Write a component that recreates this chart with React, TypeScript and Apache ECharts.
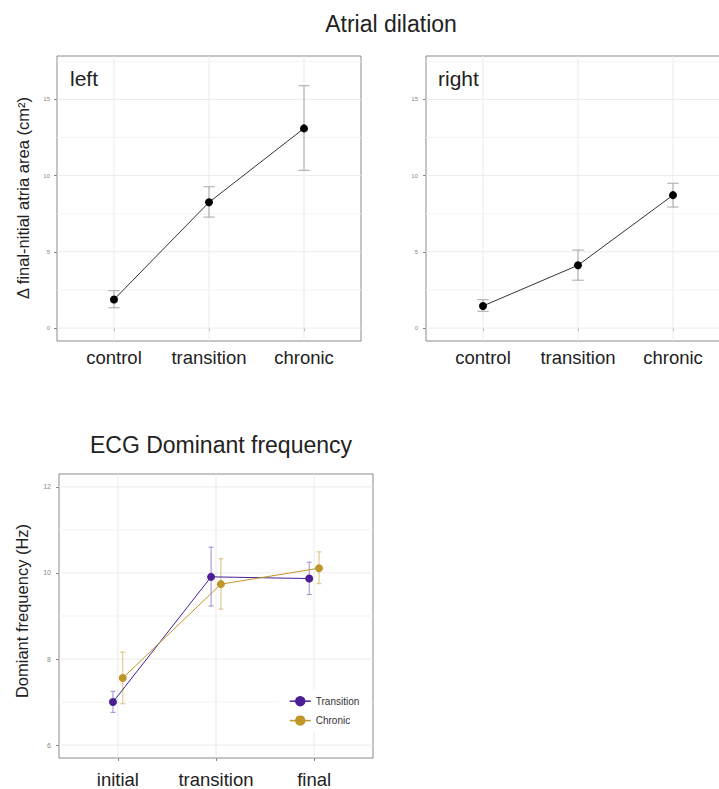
import React, { useEffect, useRef } from "react";
import * as echarts from "echarts";

// ---------- data ----------
const atrialCategories = ["control", "transition", "chronic"];
const leftMean = [1.87, 8.25, 13.1];
const leftLow = [1.33, 7.28, 10.35];
const leftHigh = [2.45, 9.27, 15.9];
const rightMean = [1.45, 4.12, 8.72];
const rightLow = [1.1, 3.14, 7.94];
const rightHigh = [1.86, 5.12, 9.5];
const atrialTicks = [0, 5, 10, 15];
const atrialMinorTicks = [2.5, 7.5, 12.5, 17.5];

const ecgCategories = ["initial", "transition", "final"];
const transitionMean = [7.0, 9.91, 9.87];
const transitionLow = [6.76, 9.23, 9.5];
const transitionHigh = [7.25, 10.6, 10.25];
const chronicMean = [7.56, 9.74, 10.11];
const chronicLow = [6.96, 9.16, 9.75];
const chronicHigh = [8.16, 10.33, 10.49];
const ecgTicks = [6, 8, 10, 12];
const ecgMinorTicks = [7, 9, 11];

const FONT = "'Liberation Sans', Arial, Helvetica, sans-serif";
const PURPLE = "#4a1f96";
const GOLD = "#bf9629";
const PURPLE_LIGHT = "#a08bd2";
const GOLD_LIGHT = "#d9c27c";

function gridSeries(idx: number, major: number[], minor: number[], cats: number[]) {
  const data: number[][] = [];
  major.forEach((v) => data.push([0, v, 1]));
  minor.forEach((v) => data.push([0, v, 0]));
  cats.forEach((v) => data.push([1, v, 1]));
  return {
    type: "custom",
    xAxisIndex: idx,
    yAxisIndex: idx,
    silent: true,
    z: 1,
    data,
    renderItem: (params: any, api: any) => {
      const kind = api.value(0);
      const v = api.value(1);
      const isMajor = api.value(2) === 1;
      const cs = params.coordSys;
      const style = { stroke: isMajor ? "#ebebeb" : "#f3f3f3", lineWidth: 1 };
      if (kind === 0) {
        const y = api.coord([1, v])[1];
        return { type: "line", shape: { x1: cs.x, y1: y, x2: cs.x + cs.width, y2: y }, style };
      }
      const x = api.coord([v, 0])[0];
      return { type: "line", shape: { x1: x, y1: cs.y, x2: x, y2: cs.y + cs.height }, style };
    },
  };
}

function errorSeries(idx: number, xs: number[], lo: number[], hi: number[], hw: number, color: string) {
  return {
    type: "custom",
    xAxisIndex: idx,
    yAxisIndex: idx,
    silent: true,
    z: 2,
    data: xs.map((x, i) => [x, lo[i], hi[i]]),
    renderItem: (_params: any, api: any) => {
      const x = api.value(0);
      const l = api.value(1);
      const h = api.value(2);
      const pl = api.coord([x, l]);
      const ph = api.coord([x, h]);
      const xl = api.coord([x - hw, h])[0];
      const xr = api.coord([x + hw, h])[0];
      const style = { stroke: color, lineWidth: 1 };
      return {
        type: "group",
        children: [
          { type: "line", shape: { x1: pl[0], y1: pl[1], x2: ph[0], y2: ph[1] }, style },
          { type: "line", shape: { x1: xl, y1: ph[1], x2: xr, y2: ph[1] }, style },
          { type: "line", shape: { x1: xl, y1: pl[1], x2: xr, y2: pl[1] }, style },
        ],
      };
    },
  };
}

function xAxisFor(idx: number, cats: string[], labelMargin: number, fontSize: number) {
  return {
    type: "value",
    gridIndex: idx,
    min: 0.4,
    max: 3.6,
    axisLine: { show: false },
    splitLine: { show: false },
    axisTick: { show: true, customValues: [1, 2, 3], length: 3, lineStyle: { color: "#888" } },
    axisLabel: {
      customValues: [1, 2, 3],
      formatter: (v: number) => cats[Math.round(v) - 1] ?? "",
      fontSize,
      fontFamily: FONT,
      color: "#222",
      margin: labelMargin,
    },
  };
}

function yAxisFor(idx: number, min: number, max: number, ticks: number[], fontSize: number, margin: number) {
  return {
    type: "value",
    gridIndex: idx,
    min,
    max,
    axisLine: { show: false },
    splitLine: { show: false },
    axisTick: { show: true, customValues: ticks, length: 3, lineStyle: { color: "#888" } },
    axisLabel: { customValues: ticks, fontSize, fontFamily: FONT, color: "#888", margin },
  };
}

export default function App() {
  const ref = useRef<HTMLDivElement>(null);
  useEffect(() => {
    if (!ref.current) return;
    const chart = echarts.init(ref.current, undefined, { renderer: "svg" });
    const catX = [1, 2, 3];
    const dodge = 0.05;
    const tX = catX.map((x) => x - dodge);
    const cX = catX.map((x) => x + dodge);
    const gridStyle = { show: true, backgroundColor: "#fff", borderColor: "#8a8a8a", borderWidth: 1 };

    const option: any = {
      animation: false,
      backgroundColor: "#fff",
      grid: [
        { left: 57, top: 56, width: 304, height: 285, ...gridStyle },
        { left: 426, top: 56, width: 304, height: 285, ...gridStyle },
        { left: 59, top: 474, width: 314, height: 285, ...gridStyle },
      ],
      xAxis: [
        xAxisFor(0, atrialCategories, 7, 18.5),
        xAxisFor(1, atrialCategories, 7, 18.5),
        xAxisFor(2, ecgCategories, 12, 18.5),
      ],
      yAxis: [
        yAxisFor(0, -0.85, 17.85, atrialTicks, 6, 7),
        yAxisFor(1, -0.85, 17.85, atrialTicks, 6, 8),
        yAxisFor(2, 5.7, 12.3, ecgTicks, 7, 8),
      ],
      legend: {
        data: ["Transition", "Chronic"],
        orient: "vertical",
        left: 279,
        top: 690,
        padding: [6, 10, 6, 10],
        itemWidth: 21,
        itemHeight: 13,
        itemGap: 9,
        backgroundColor: "#fff",
        lineStyle: { width: 1.5 },
        textStyle: { fontSize: 10, fontFamily: FONT, color: "#333" },
      },
      series: [
        gridSeries(0, atrialTicks, atrialMinorTicks, catX),
        gridSeries(1, atrialTicks, atrialMinorTicks, catX),
        gridSeries(2, ecgTicks, ecgMinorTicks, catX),
        errorSeries(0, catX, leftLow, leftHigh, 0.06, "#a6a6a6"),
        errorSeries(1, catX, rightLow, rightHigh, 0.06, "#a6a6a6"),
        {
          type: "line",
          name: "left",
          xAxisIndex: 0,
          yAxisIndex: 0,
          z: 3,
          data: catX.map((x, i) => [x, leftMean[i]]),
          symbol: "circle",
          symbolSize: 8,
          itemStyle: { color: "#000" },
          lineStyle: { color: "#333", width: 1 },
        },
        {
          type: "line",
          name: "right",
          xAxisIndex: 1,
          yAxisIndex: 1,
          z: 3,
          data: catX.map((x, i) => [x, rightMean[i]]),
          symbol: "circle",
          symbolSize: 8,
          itemStyle: { color: "#000" },
          lineStyle: { color: "#333", width: 1 },
        },
        errorSeries(2, tX, transitionLow, transitionHigh, 0.025, PURPLE_LIGHT),
        errorSeries(2, cX, chronicLow, chronicHigh, 0.025, GOLD_LIGHT),
        {
          type: "line",
          name: "Transition",
          xAxisIndex: 2,
          yAxisIndex: 2,
          z: 3,
          data: tX.map((x, i) => [x, transitionMean[i]]),
          symbol: "circle",
          symbolSize: 8,
          itemStyle: { color: PURPLE },
          lineStyle: { color: PURPLE, width: 1 },
        },
        {
          type: "line",
          name: "Chronic",
          xAxisIndex: 2,
          yAxisIndex: 2,
          z: 3,
          data: cX.map((x, i) => [x, chronicMean[i]]),
          symbol: "circle",
          symbolSize: 8,
          itemStyle: { color: GOLD },
          lineStyle: { color: GOLD, width: 1 },
        },
      ],
      graphic: [
        {
          type: "text",
          x: 391,
          y: 24,
          style: { text: "Atrial dilation", font: `23px ${FONT}`, fill: "#222", align: "center", verticalAlign: "middle" },
        },
        {
          type: "text",
          x: 221,
          y: 445,
          style: { text: "ECG Dominant frequency", font: `23px ${FONT}`, fill: "#222", align: "center", verticalAlign: "middle" },
        },
        {
          type: "text",
          x: 70,
          y: 78,
          style: { text: "left", font: `21px ${FONT}`, fill: "#222", align: "left", verticalAlign: "middle" },
        },
        {
          type: "text",
          x: 438,
          y: 78,
          style: { text: "right", font: `21px ${FONT}`, fill: "#222", align: "left", verticalAlign: "middle" },
        },
        {
          type: "text",
          x: 23,
          y: 198,
          rotation: Math.PI / 2,
          style: { text: "Δ final-nitial atria area (cm²)", font: `16.5px ${FONT}`, fill: "#222", align: "center", verticalAlign: "middle" },
        },
        {
          type: "text",
          x: 22,
          y: 611,
          rotation: Math.PI / 2,
          style: { text: "Domiant frequency (Hz)", font: `16.5px ${FONT}`, fill: "#222", align: "center", verticalAlign: "middle" },
        },
      ],
    };
    chart.setOption(option);
    return () => chart.dispose();
  }, []);
  return (
    <div style={{ position: "absolute", left: 0, top: 0, width: 719, height: 789, overflow: "hidden", background: "#fff" }}>
      <div ref={ref} style={{ width: 745, height: 789 }} />
    </div>
  );
}
